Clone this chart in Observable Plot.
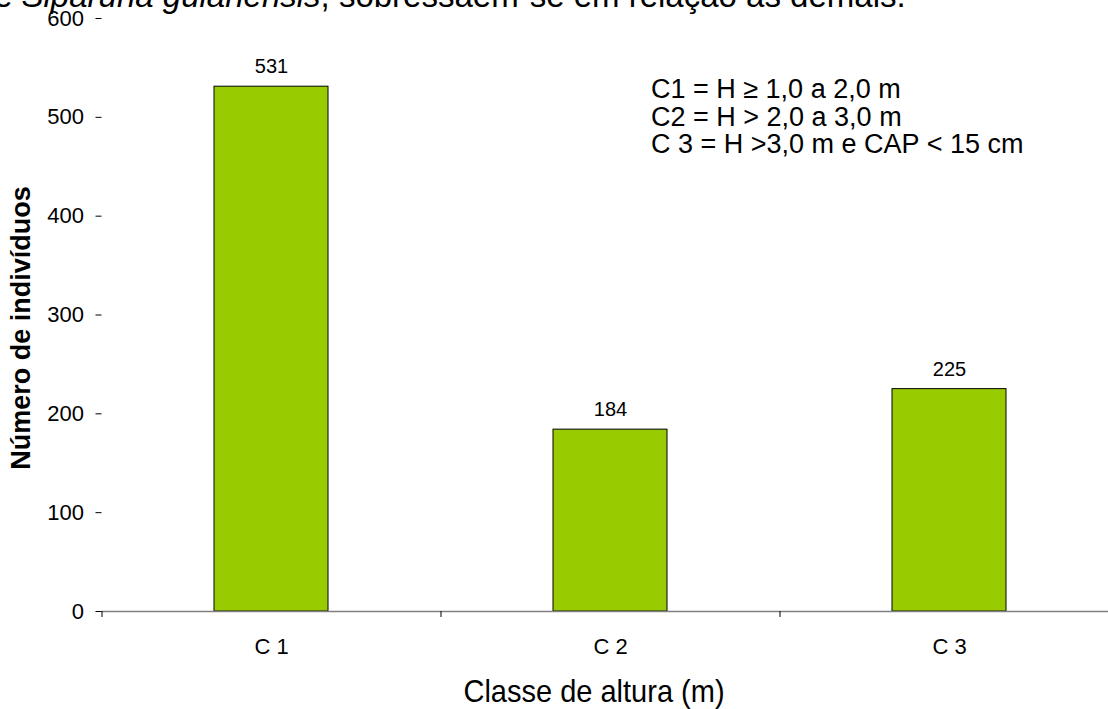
<!DOCTYPE html>
<html><head><meta charset="utf-8">
<script src="https://cdn.jsdelivr.net/npm/d3@7"></script>
<script src="https://cdn.jsdelivr.net/npm/@observablehq/plot@0.6"></script>
<style>
html,body{margin:0;padding:0;background:#fff}
body{width:1108px;height:709px;overflow:hidden;position:relative;font-family:"Liberation Sans",Arial,sans-serif;color:#000}
#chart{position:absolute;left:0;top:0}
#top{position:absolute;left:-6px;top:-21px;font-size:33px;line-height:33px;white-space:nowrap}
#legend{position:absolute;left:651px;top:76px;font-size:27px;line-height:27.5px;white-space:nowrap}
#xtitle{position:absolute;left:594px;top:692px;transform:translate(-50%,-50%) scaleY(1.08);font-size:29px;white-space:nowrap}
#ytitle{position:absolute;left:21px;top:328px;transform:translate(-50%,-50%) rotate(-90deg);font-weight:bold;font-size:27px;white-space:nowrap}
</style></head><body>
<div id="chart"></div>
<div id="top">e <i>Siparuna guianensis</i>, sobressaem-se em relação às demais.</div>
<div id="legend"></div>
<div id="xtitle"></div>
<div id="ytitle"></div>
<script>
const categories = ["C 1", "C 2", "C 3"];
const values = [531, 184, 225];
const yTicks = [0, 100, 200, 300, 400, 500, 600];
const legendLines = ["C1 = H ≥ 1,0 a 2,0 m", "C2 = H > 2,0 a 3,0 m", "C 3 = H >3,0 m e CAP < 15 cm"];
const xTitle = "Classe de altura (m)";
const yTitle = "Número de indivíduos";

const data = categories.map((c, i) => ({classe: c, n: values[i]}));

const chart = Plot.plot({
  width: 1108,
  height: 709,
  marginLeft: 101.5,
  marginTop: 18,
  marginBottom: 98,
  marginRight: -10.5,
  style: {fontFamily: "'Liberation Sans', Arial, sans-serif", fontSize: "21px", color: "#000", background: "#fff", overflow: "visible"},
  x: {domain: categories, paddingInner: 0.664, paddingOuter: 0.332, axis: null},
  y: {domain: [0, 600], axis: null},
  marks: [
    Plot.barY(data, {x: "classe", y: "n", fill: "#99CC00", stroke: "#000", strokeWidth: 1}),
    Plot.ruleY([0], {stroke: "#808080", strokeWidth: 1.5}),
    Plot.ruleX(categories, {x: d => d, dx: -169.5, y1: 0, y2: 0, insetBottom: -6, stroke: "#000"}),
    Plot.axisY({ticks: yTicks, tickSize: 6, tickPadding: 12, line: true, label: null, fontSize: 22, stroke: "#000"}),
    Plot.axisX({tickSize: 0, tickPadding: 27, label: null, fontSize: 22}),
    Plot.text(data, {x: "classe", y: "n", text: d => String(d.n), dy: -20, fontSize: 20})
  ]
});
document.getElementById("chart").appendChild(chart);
document.getElementById("legend").innerHTML = legendLines.map(s => `<div>${s.replace(/</g, "&lt;").replace(/>/g, "&gt;")}</div>`).join("");
document.getElementById("xtitle").textContent = xTitle;
document.getElementById("ytitle").textContent = yTitle;
</script>
</body></html>
